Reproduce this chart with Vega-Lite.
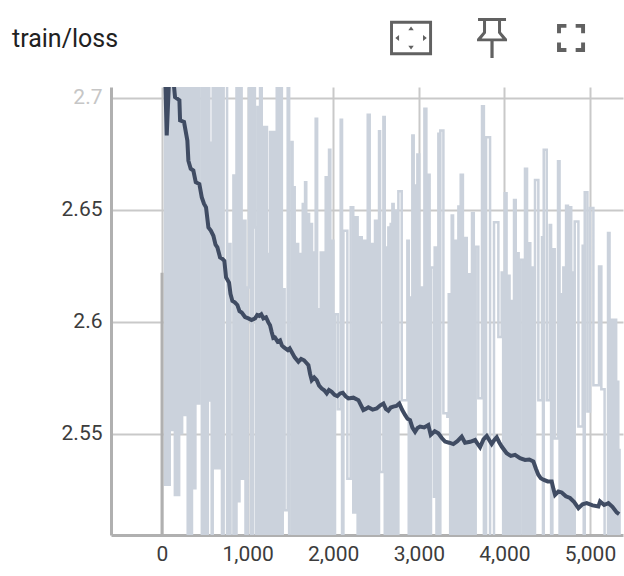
{
  "$schema": "https://vega.github.io/schema/vega-lite/v6.json",
  "description": "TensorBoard style scalar card: raw and smoothed training loss.",
  "autosize": "none",
  "padding": {"left": 111, "top": 87, "right": 1, "bottom": 41},
  "width": 512,
  "height": 448,
  "background": "white",
  "title": {"text": "train/loss", "anchor": "start", "frame": "group", "dx": -99, "offset": 0, "dy": 34, "fontSize": 25, "font": "Roboto", "fontWeight": 400, "color": "#212121"},
  "datasets": {
    "raw": [
      {"step":10,"loss":2.72},{"step":35,"loss":2.5273},{"step":55,"loss":2.72},{"step":75,"loss":2.5273},{"step":90,"loss":2.72},{"step":105,"loss":2.5518},{"step":125,"loss":2.72},{"step":150,"loss":2.5228},{"step":170,"loss":2.72},{"step":180,"loss":2.5228},{"step":200,"loss":2.72},{"step":215,"loss":2.5503},{"step":235,"loss":2.72},{"step":262,"loss":2.5585},{"step":275,"loss":2.72},{"step":300,"loss":2.49},{"step":315,"loss":2.72},{"step":335,"loss":2.49},{"step":350,"loss":2.72},{"step":370,"loss":2.5258},{"step":390,"loss":2.72},{"step":415,"loss":2.5636},{"step":435,"loss":2.72},{"step":465,"loss":2.49},{"step":485,"loss":2.72},{"step":510,"loss":2.49},{"step":535,"loss":2.72},
      {"step":552,"loss":2.565},{"step":566,"loss":2.68},{"step":580,"loss":2.49},{"step":592,"loss":2.72},{"step":612,"loss":2.5347},{"step":640,"loss":2.72},{"step":658,"loss":2.5347},{"step":680,"loss":2.72},{"step":700,"loss":2.49},{"step":720,"loss":2.72},{"step":745,"loss":2.72},{"step":760,"loss":2.49},{"step":775,"loss":2.6348},{"step":800,"loss":2.49},{"step":834,"loss":2.6654},{"step":850,"loss":2.49},{"step":870,"loss":2.72},{"step":885,"loss":2.52},{"step":905,"loss":2.72},{"step":930,"loss":2.53},{"step":950,"loss":2.6452},{"step":975,"loss":2.49},{"step":1000,"loss":2.6154},{"step":1015,"loss":2.72},{"step":1040,"loss":2.49},{"step":1065,"loss":2.72},{"step":1085,"loss":2.6422},{"step":1100,"loss":2.49},{"step":1115,"loss":2.696},{"step":1130,"loss":2.49},{"step":1145,"loss":2.72},{"step":1165,"loss":2.49},{"step":1184,"loss":2.687},{"step":1200,"loss":2.49},{"step":1212,"loss":2.687},{"step":1226,"loss":2.49},{"step":1235,"loss":2.6303},{"step":1250,"loss":2.49},{"step":1262,"loss":2.6848},{"step":1280,"loss":2.49},{"step":1300,"loss":2.6848},{"step":1318,"loss":2.49},{"step":1340,"loss":2.72},{"step":1360,"loss":2.49},{"step":1380,"loss":2.72},{"step":1400,"loss":2.49},{"step":1410,"loss":2.6146},{"step":1432,"loss":2.516},{"step":1468,"loss":2.72},{"step":1485,"loss":2.49},{"step":1515,"loss":2.6803},{"step":1525,"loss":2.49},{"step":1535,"loss":2.6601},{"step":1550,"loss":2.49},{"step":1573,"loss":2.6348},{"step":1590,"loss":2.49},{"step":1612,"loss":2.6303},{"step":1628,"loss":2.49},{"step":1644,"loss":2.6527},{"step":1658,"loss":2.49},{"step":1671,"loss":2.6624},{"step":1685,"loss":2.49},{"step":1698,"loss":2.6482},{"step":1718,"loss":2.49},{"step":1737,"loss":2.6437},{"step":1752,"loss":2.49},{"step":1768,"loss":2.631},{"step":1782,"loss":2.49},{"step":1795,"loss":2.6907},{"step":1812,"loss":2.49},{"step":1827,"loss":2.6057},{"step":1840,"loss":2.49},{"step":1854,"loss":2.631},{"step":1870,"loss":2.49},{"step":1885,"loss":2.631},{"step":1898,"loss":2.49},{"step":1912,"loss":2.6646},{"step":1932,"loss":2.49},{"step":1951,"loss":2.6769},{"step":1966,"loss":2.49},{"step":1982,"loss":2.6363},{"step":2002,"loss":2.49},{"step":2021,"loss":2.6034},{"step":2054,"loss":2.561},{"step":2087,"loss":2.6903},{"step":2103,"loss":2.49},{"step":2119,"loss":2.6407},{"step":2165,"loss":2.53},{"step":2204,"loss":2.6512},{"step":2234,"loss":2.515},{"step":2263,"loss":2.6467},{"step":2285,"loss":2.49},{"step":2306,"loss":2.6378},{"step":2333,"loss":2.49},{"step":2360,"loss":2.6363},{"step":2382,"loss":2.49},{"step":2403,"loss":2.6925},{"step":2426,"loss":2.49},{"step":2449,"loss":2.6348},{"step":2468,"loss":2.49},{"step":2488,"loss":2.6452},{"step":2512,"loss":2.49},{"step":2535,"loss":2.6851},{"step":2547,"loss":2.533},{"step":2586,"loss":2.6915},{"step":2602,"loss":2.49},{"step":2617,"loss":2.6333},{"step":2630,"loss":2.49},{"step":2644,"loss":2.6422},{"step":2658,"loss":2.49},{"step":2671,"loss":2.6437},{"step":2681,"loss":2.49},{"step":2691,"loss":2.6527},{"step":2706,"loss":2.49},{"step":2722,"loss":2.6497},{"step":2742,"loss":2.49},{"step":2761,"loss":2.6584},{"step":2800,"loss":2.5651},{"step":2866,"loss":2.6363},{"step":2882,"loss":2.49},{"step":2897,"loss":2.6109},{"step":2910,"loss":2.49},{"step":2924,"loss":2.6833},{"step":2940,"loss":2.49},{"step":2955,"loss":2.6609},{"step":2970,"loss":2.49},{"step":2983,"loss":2.6748},{"step":3005,"loss":2.49},{"step":3026,"loss":2.6154},{"step":3046,"loss":2.49},{"step":3065,"loss":2.6952},{"step":3088,"loss":2.49},{"step":3111,"loss":2.6657},{"step":3126,"loss":2.49},{"step":3142,"loss":2.6243},{"step":3177,"loss":2.522},{"step":3185,"loss":2.6333},{"step":3206,"loss":2.49},{"step":3228,"loss":2.684},{"step":3240,"loss":2.49},{"step":3251,"loss":2.6855},{"step":3287,"loss":2.5592},{"step":3333,"loss":2.5577},{"step":3349,"loss":2.6124},{"step":3366,"loss":2.49},{"step":3384,"loss":2.6475},{"step":3400,"loss":2.49},{"step":3415,"loss":2.6363},{"step":3438,"loss":2.49},{"step":3462,"loss":2.6515},{"step":3476,"loss":2.49},{"step":3489,"loss":2.6657},{"step":3515,"loss":2.49},{"step":3540,"loss":2.6375},{"step":3560,"loss":2.49},{"step":3579,"loss":2.6213},{"step":3600,"loss":2.49},{"step":3621,"loss":2.6487},{"step":3642,"loss":2.49},{"step":3664,"loss":2.6336},{"step":3695,"loss":2.5659},{"step":3738,"loss":2.6963},{"step":3760,"loss":2.49},{"step":3785,"loss":2.6825},{"step":3832,"loss":2.49},{"step":3878,"loss":2.6445},{"step":3929,"loss":2.5933},{"step":3968,"loss":2.6221},{"step":3985,"loss":2.49},{"step":4003,"loss":2.6575},{"step":4025,"loss":2.49},{"step":4046,"loss":2.6206},{"step":4060,"loss":2.49},{"step":4073,"loss":2.6094},{"step":4092,"loss":2.49},{"step":4112,"loss":2.6545},{"step":4132,"loss":2.49},{"step":4151,"loss":2.6307},{"step":4166,"loss":2.49},{"step":4182,"loss":2.6278},{"step":4212,"loss":2.49},{"step":4240,"loss":2.6684},{"step":4264,"loss":2.49},{"step":4287,"loss":2.6352},{"step":4302,"loss":2.49},{"step":4318,"loss":2.6243},{"step":4338,"loss":2.49},{"step":4357,"loss":2.6634},{"step":4396,"loss":2.5651},{"step":4439,"loss":2.6378},{"step":4450,"loss":2.49},{"step":4459,"loss":2.6769},{"step":4494,"loss":2.5651},{"step":4529,"loss":2.6433},{"step":4545,"loss":2.49},{"step":4560,"loss":2.6325},{"step":4587,"loss":2.548},{"step":4626,"loss":2.6718},{"step":4644,"loss":2.49},{"step":4661,"loss":2.6124},{"step":4675,"loss":2.49},{"step":4688,"loss":2.6243},{"step":4704,"loss":2.49},{"step":4720,"loss":2.6519},{"step":4742,"loss":2.49},{"step":4766,"loss":2.6512},{"step":4780,"loss":2.49},{"step":4794,"loss":2.6221},{"step":4808,"loss":2.49},{"step":4821,"loss":2.6448},{"step":4864,"loss":2.5533},{"step":4914,"loss":2.634},{"step":4926,"loss":2.49},{"step":4938,"loss":2.6579},{"step":4969,"loss":2.56},{"step":5000,"loss":2.6509},{"step":5039,"loss":2.5718},{"step":5105,"loss":2.6248},{"step":5132,"loss":2.57},{"step":5170,"loss":2.49},{"step":5210,"loss":2.6397},{"step":5228,"loss":2.49},{"step":5250,"loss":2.601},{"step":5270,"loss":2.49},{"step":5290,"loss":2.601},{"step":5305,"loss":2.49},{"step":5320,"loss":2.5733},{"step":5330,"loss":2.49},{"step":5340,"loss":2.5429},{"step":5345,"loss":2.49}
    ],
    "smoothed": [
      {"step":30,"loss":2.72},{"step":55,"loss":2.6833},{"step":82,"loss":2.708},{"step":133,"loss":2.708},{"step":152,"loss":2.7004},{"step":203,"loss":2.699},{"step":211,"loss":2.69},{"step":257,"loss":2.6893},{"step":296,"loss":2.681},{"step":308,"loss":2.672},{"step":335,"loss":2.6684},{"step":366,"loss":2.6676},{"step":394,"loss":2.6624},{"step":436,"loss":2.6616},{"step":464,"loss":2.6557},{"step":490,"loss":2.6528},{"step":514,"loss":2.6512},{"step":542,"loss":2.6422},{"step":570,"loss":2.6408},{"step":600,"loss":2.6385},{"step":625,"loss":2.6345},{"step":647,"loss":2.6333},{"step":678,"loss":2.6288},{"step":705,"loss":2.6282},{"step":728,"loss":2.6273},{"step":748,"loss":2.6199},{"step":783,"loss":2.6176},{"step":800,"loss":2.6125},{"step":822,"loss":2.6094},{"step":850,"loss":2.6088},{"step":880,"loss":2.6076},{"step":905,"loss":2.6048},{"step":931,"loss":2.6042},{"step":970,"loss":2.6022},{"step":1009,"loss":2.6016},{"step":1045,"loss":2.6009},{"step":1087,"loss":2.6016},{"step":1112,"loss":2.6031},{"step":1137,"loss":2.6027},{"step":1160,"loss":2.6034},{"step":1184,"loss":2.6016},{"step":1215,"loss":2.6021},{"step":1242,"loss":2.5998},{"step":1262,"loss":2.5985},{"step":1281,"loss":2.5955},{"step":1300,"loss":2.5928},{"step":1320,"loss":2.593},{"step":1350,"loss":2.5912},{"step":1379,"loss":2.5918},{"step":1400,"loss":2.5895},{"step":1425,"loss":2.5886},{"step":1470,"loss":2.5874},{"step":1492,"loss":2.5882},{"step":1515,"loss":2.5866},{"step":1550,"loss":2.5842},{"step":1593,"loss":2.5822},{"step":1625,"loss":2.5835},{"step":1659,"loss":2.5829},{"step":1685,"loss":2.5818},{"step":1710,"loss":2.5807},{"step":1730,"loss":2.5768},{"step":1749,"loss":2.574},{"step":1778,"loss":2.5752},{"step":1807,"loss":2.574},{"step":1835,"loss":2.5716},{"step":1866,"loss":2.5703},{"step":1895,"loss":2.5695},{"step":1924,"loss":2.5681},{"step":1950,"loss":2.5696},{"step":1982,"loss":2.5688},{"step":2015,"loss":2.5675},{"step":2048,"loss":2.5669},{"step":2080,"loss":2.5681},{"step":2111,"loss":2.5684},{"step":2145,"loss":2.5668},{"step":2177,"loss":2.5659},{"step":2235,"loss":2.5662},{"step":2294,"loss":2.5651},{"step":2352,"loss":2.5607},{"step":2380,"loss":2.5612},{"step":2410,"loss":2.5619},{"step":2460,"loss":2.5609},{"step":2508,"loss":2.5614},{"step":2550,"loss":2.5628},{"step":2586,"loss":2.5636},{"step":2615,"loss":2.5612},{"step":2644,"loss":2.5604},{"step":2672,"loss":2.5618},{"step":2702,"loss":2.5622},{"step":2738,"loss":2.5625},{"step":2772,"loss":2.5636},{"step":2805,"loss":2.5608},{"step":2839,"loss":2.5585},{"step":2868,"loss":2.5568},{"step":2897,"loss":2.5562},{"step":2925,"loss":2.5528},{"step":2956,"loss":2.551},{"step":2985,"loss":2.5527},{"step":3014,"loss":2.5533},{"step":3062,"loss":2.5529},{"step":3111,"loss":2.554},{"step":3139,"loss":2.5496},{"step":3185,"loss":2.5512},{"step":3228,"loss":2.5503},{"step":3268,"loss":2.5482},{"step":3306,"loss":2.5466},{"step":3355,"loss":2.5461},{"step":3403,"loss":2.5455},{"step":3450,"loss":2.5468},{"step":3501,"loss":2.5488},{"step":3540,"loss":2.5461},{"step":3600,"loss":2.5465},{"step":3657,"loss":2.5473},{"step":3685,"loss":2.5457},{"step":3715,"loss":2.5441},{"step":3755,"loss":2.5476},{"step":3793,"loss":2.5491},{"step":3851,"loss":2.5455},{"step":3880,"loss":2.5472},{"step":3910,"loss":2.5485},{"step":3940,"loss":2.5462},{"step":3968,"loss":2.5444},{"step":4026,"loss":2.5414},{"step":4075,"loss":2.5402},{"step":4124,"loss":2.5407},{"step":4182,"loss":2.5392},{"step":4241,"loss":2.5384},{"step":4290,"loss":2.5386},{"step":4338,"loss":2.5377},{"step":4368,"loss":2.5345},{"step":4396,"loss":2.5318},{"step":4425,"loss":2.5302},{"step":4455,"loss":2.5296},{"step":4505,"loss":2.5288},{"step":4552,"loss":2.5288},{"step":4572,"loss":2.5255},{"step":4591,"loss":2.5228},{"step":4630,"loss":2.5243},{"step":4669,"loss":2.5239},{"step":4718,"loss":2.5222},{"step":4766,"loss":2.5214},{"step":4815,"loss":2.5196},{"step":4864,"loss":2.5169},{"step":4912,"loss":2.5186},{"step":4961,"loss":2.5191},{"step":5030,"loss":2.5181},{"step":5097,"loss":2.5176},{"step":5117,"loss":2.5199},{"step":5165,"loss":2.5183},{"step":5214,"loss":2.5191},{"step":5262,"loss":2.5175},{"step":5311,"loss":2.515},{"step":5340,"loss":2.5142}
    ]
  },
  "layer": [
    {
      "data": {"name": "raw"},
      "mark": {"type": "line", "color": "#cbd2dc", "strokeWidth": 2.5, "clip": true, "interpolate": "step-after"},
      "encoding": {
        "x": {
          "field": "step", "type": "quantitative",
          "scale": {"domain": [-596, 5385], "nice": false, "zero": false},
          "axis": {"title": null, "values": [0, 1000, 2000, 3000, 4000, 5000], "labelExpr": "format(datum.value, ',')", "tickSize": 0, "labelPadding": 8, "labelFontSize": 21, "labelFont": "Roboto", "labelColor": "#3c3c3c", "labelFlush": false, "labelOverlap": false, "grid": true, "gridColor": "#c9c9c9", "gridWidth": 2, "domainColor": "#b0b0b0", "domainWidth": 3}
        },
        "y": {
          "field": "loss", "type": "quantitative",
          "scale": {"domain": [2.5049, 2.7049], "nice": false, "zero": false},
          "axis": {"title": null, "values": [2.55, 2.6, 2.65, 2.7], "labelExpr": "format(datum.value, '.3~f')", "tickSize": 0, "labelPadding": 9, "labelFontSize": 21, "labelFont": "Roboto", "labelColor": {"expr": "datum.value > 2.69 ? '#c6c6c6' : '#3c3c3c'"}, "grid": true, "gridColor": "#c9c9c9", "gridWidth": 2, "domainColor": "#b0b0b0", "domainWidth": 3}
        }
      }
    },
    {
      "data": {"values": [{"step": 0, "low": 2.49, "high": 2.622}]},
      "mark": {"type": "rule", "color": "#b0b0b0", "strokeWidth": 3, "clip": true},
      "encoding": {
        "x": {"field": "step", "type": "quantitative"},
        "y": {"field": "low", "type": "quantitative"},
        "y2": {"field": "high"}
      }
    },
    {
      "data": {"name": "smoothed"},
      "mark": {"type": "line", "color": "#404c63", "strokeWidth": 4, "clip": true},
      "encoding": {
        "x": {"field": "step", "type": "quantitative"},
        "y": {"field": "loss", "type": "quantitative"}
      }
    },
    {
      "data": {"values": [{"step": 2909, "loss": 2.7268}]},
      "mark": {"type": "point", "filled": true, "color": "#616161", "opacity": 1, "size": 1764, "shape": "M-1 -0.82H1V0.82H-1ZM-0.86 -0.68V0.68H0.86V-0.68ZM0 -0.55L-0.13 -0.37H0.13ZM0 0.55L-0.13 0.37H0.13ZM-0.75 0L-0.57 -0.14V0.14ZM0.75 0L0.57 -0.14V0.14Z"},
      "encoding": {
        "x": {"field": "step", "type": "quantitative"},
        "y": {"field": "loss", "type": "quantitative"}
      }
    },
    {
      "data": {"values": [{"step": 3855, "loss": 2.7268}]},
      "mark": {"type": "point", "filled": true, "color": "#616161", "opacity": 1, "size": 1600, "shape": "M-0.7 -1H0.7V-0.85H0.45V-0.3L0.75 0.05V0.17H0.08V1H-0.08V0.17H-0.75V0.05L-0.45 -0.3V-0.85H-0.7ZM-0.3 -0.85V-0.25L-0.52 0.03H0.52L0.3 -0.25V-0.85Z"},
      "encoding": {
        "x": {"field": "step", "type": "quantitative"},
        "y": {"field": "loss", "type": "quantitative"}
      }
    },
    {
      "data": {"values": [{"step": 4778, "loss": 2.7268}]},
      "mark": {"type": "point", "filled": true, "color": "#616161", "opacity": 1, "size": 784, "shape": "M-1 -1H-0.33V-0.72H-0.72V-0.33H-1ZM1 -1V-0.33H0.72V-0.72H0.33V-1ZM-1 1V0.33H-0.72V0.72H-0.33V1ZM1 1H0.33V0.72H0.72V0.33H1Z"},
      "encoding": {
        "x": {"field": "step", "type": "quantitative"},
        "y": {"field": "loss", "type": "quantitative"}
      }
    }
  ],
  "config": {"view": {"stroke": null}}
}
